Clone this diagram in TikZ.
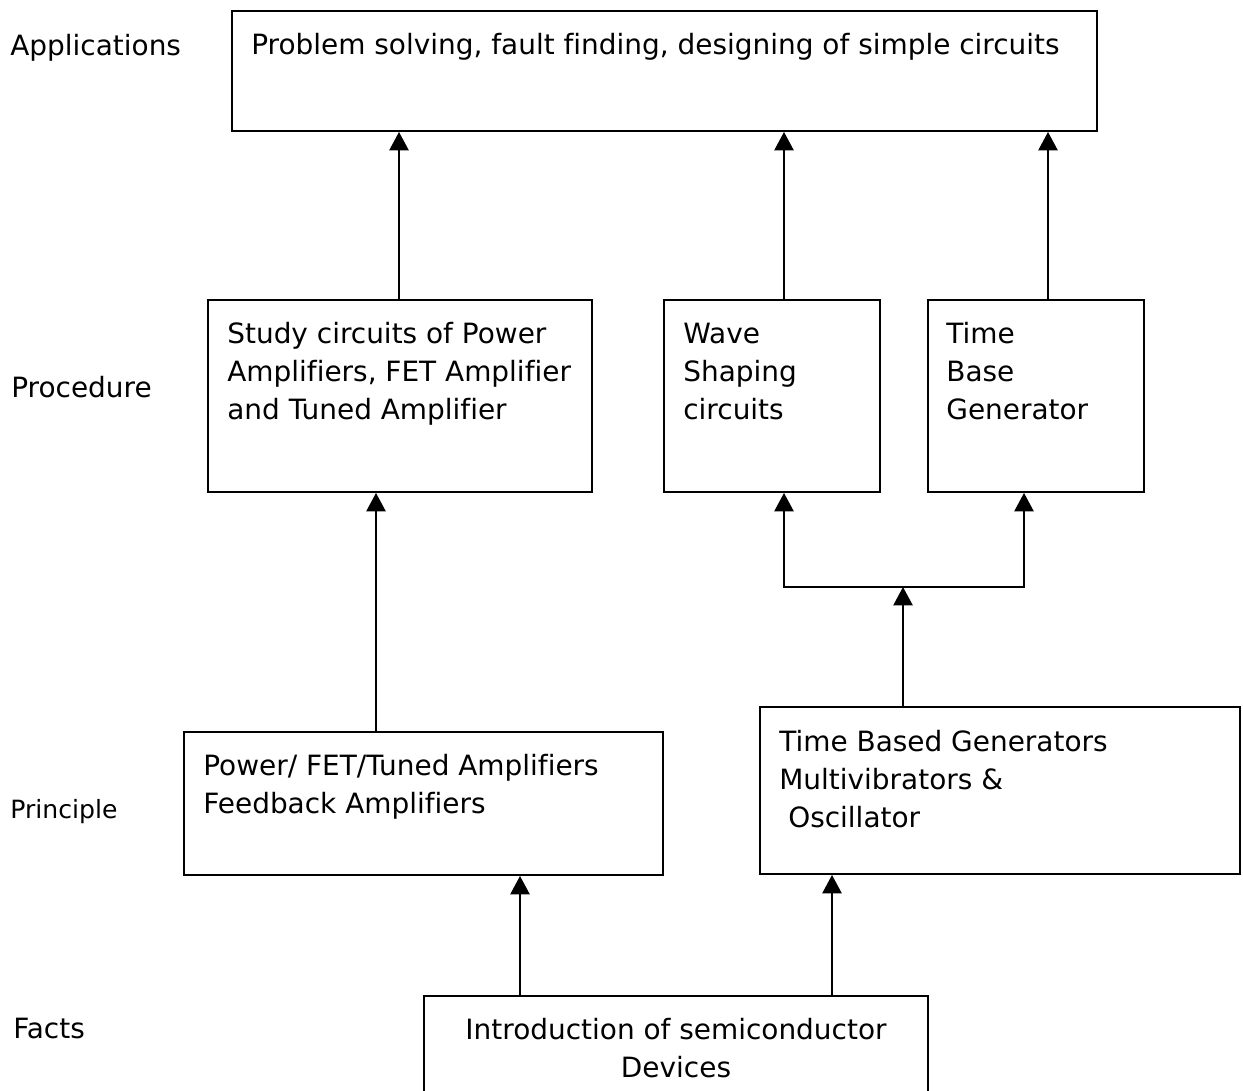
\documentclass[tikz,border=0pt]{standalone}
\usepackage{fontspec}
\setmainfont{DejaVu Sans}[Ligatures=NoCommon]
\usetikzlibrary{arrows.meta,fit}

\tikzset{
  box/.style={draw, line width=1.1pt, inner sep=0pt},
  txt/.style={anchor=base west, align=left, inner sep=0pt, font={\fontsize{15.9}{21.5}\selectfont}},
  lvl/.style={anchor=base west, inner sep=0pt, font={\fontsize{15.9}{21.5}\selectfont}},
  arr/.style={-{Triangle[width=11pt,length=10.5pt]}, line width=1pt},
}

\begin{document}
\begin{tikzpicture}[x=0.02cm, y=-0.02cm]
    \useasboundingbox (0,0) rectangle (1243,1090);
    \node[box, fit={(232,11) (1097,131)}] (apps) {};
    \node[box, fit={(208,300) (592,492)}] (proc1) {};
    \node[box, fit={(664,300) (880,492)}] (wave) {};
    \node[box, fit={(928,300) (1144,492)}] (tbase) {};
    \node[box, fit={(184,732) (663,875)}] (prin1) {};
    \node[box, fit={(760,707) (1240,874)}] (prin2) {};
    \node[box, fit={(424,996) (928,1110)}] (facts) {};

    % base = last line
    \node[txt] (apps-t) at (251,54) {Problem solving, fault finding, designing of simple circuits};
    \node[txt] (proc1-t) at (227,419) {Study circuits of Power\\Amplifiers, FET Amplifier\\and Tuned Amplifier};
    \node[txt] (wave-t) at (683,419) {Wave\\Shaping\\circuits};
    \node[txt] (tbase-t) at (946,419) {Time\\Base\\Generator};
    \node[txt] (prin1-t) at (203,813) {Power/ FET/Tuned Amplifiers\\Feedback Amplifiers};
    \node[txt] (prin2-t) at (779,827) {Time Based Generators\\Multivibrators \&\\\hspace*{.32em}Oscillator};
    \node[txt, anchor=base, align=center] (facts-t) at (676,1077) {Introduction of semiconductor\\Devices};

    \node[lvl] (l-app) at (10,55) {Applications};
    \node[lvl] (l-proc) at (11,397) {Procedure};
    \node[lvl, font={\fontsize{14.3}{17}\selectfont}] (l-prin) at (10,818) {Principle};
    \node[lvl] (l-fact) at (13,1038) {Facts};

    \coordinate (x1) at (399,0);
    \coordinate (x2) at (784,0);
    \coordinate (x3) at (1048,0);
    \coordinate (x4) at (376,0);
    \coordinate (x5) at (1024,0);
    \coordinate (x6) at (520,0);
    \coordinate (x7) at (832,0);
    \coordinate (split) at (903,587);

    \draw[arr] (x1 |- proc1.north) -- (x1 |- apps.south);
    \draw[arr] (x2 |- wave.north) -- (x2 |- apps.south);
    \draw[arr] (x3 |- tbase.north) -- (x3 |- apps.south);
    \draw[arr] (x4 |- prin1.north) -- (x4 |- proc1.south);
    \draw[arr] (split |- prin2.north) -- (split);
    \draw[arr] (split) -| (x2 |- wave.south);
    \draw[arr] (split) -| (x5 |- tbase.south);
    \draw[arr] (x6 |- facts.north) -- (x6 |- prin1.south);
    \draw[arr] (x7 |- facts.north) -- (x7 |- prin2.south);
\end{tikzpicture}
\end{document}
